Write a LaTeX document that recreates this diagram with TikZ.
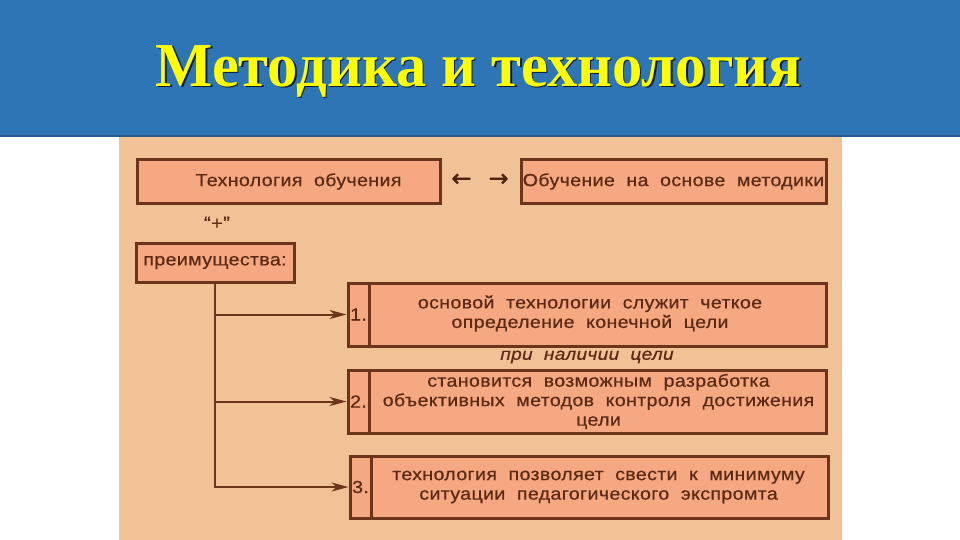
\documentclass[tikz,border=0pt]{standalone}
\usepackage{fontspec}
\setmainfont{Liberation Sans}
\newfontfamily\titlefont[FakeStretch=0.97]{Liberation Serif}
\newfontfamily\boxfont[FakeStretch=1.12, FakeBold=0.6, LetterSpace=2]{Liberation Sans}
\newfontfamily\arrfont[FakeBold=1]{DejaVu Sans}
\usetikzlibrary{arrows.meta,calc}
\definecolor{band}{RGB}{46,117,182}
\definecolor{bandedge}{RGB}{40,90,140}
\definecolor{panel}{RGB}{240,194,150}
\definecolor{boxfill}{RGB}{246,168,130}
\definecolor{brownline}{RGB}{108,52,26}
\definecolor{browntext}{RGB}{92,42,20}
\definecolor{titleyellow}{RGB}{255,255,0}
\tikzset{
  box/.style={draw=brownline, line width=3pt, fill=boxfill, inner sep=0pt, text=browntext},
  sep/.style={draw=brownline, line width=2.4pt},
  conn/.style={draw=brownline, line width=2pt, -{Stealth[length=17pt,width=9pt,inset=5pt]}},
  trunk/.style={draw=brownline, line width=2.6pt},
  btext/.style={text=browntext, font=\boxfont\fontsize{17.5}{19.5}\selectfont, align=center, inner sep=0pt},
  numtext/.style={text=browntext, font=\boxfont\fontsize{17.5}{19.5}\selectfont, inner sep=0pt}
}
\begin{document}
\begin{tikzpicture}[x=1pt,y=-1pt]
\useasboundingbox (0,0) rectangle (960,540);
\fill[white] (0,0) rectangle (960,540);
\fill[panel] (119,137) rectangle (842,540);
\fill[band] (0,0) rectangle (960,137);
\fill[bandedge] (0,135) rectangle (960,137.5);
% title
\node[text=black!75!band, font=\titlefont\bfseries\fontsize{62.5}{70}\selectfont, inner sep=0pt] (titleshadow) at (480,72.5) {Методика и технология};
\node[text=titleyellow, font=\titlefont\bfseries\fontsize{62.5}{70}\selectfont, inner sep=0pt] (title) at (478.5,71) {Методика и технология};
% top boxes
\node[box, minimum width=303pt, minimum height=43pt, font=\boxfont\fontsize{17.5}{20}\selectfont] (tech) at (288.5,181.5) {\hspace*{20pt}Технология\ \ обучения};
\node[box, minimum width=305pt, minimum height=43pt, font=\boxfont\fontsize{17.5}{20}\selectfont] (meth) at (673.5,181.5) {Обучение\ \ на\ \ основе\ \ методики};
\node[text=browntext!85!black, font=\arrfont\fontsize{24}{26}\selectfont, inner sep=0pt] (arrows) at (480,180) {←\hspace{17pt}→};
\node[text=browntext, font=\boxfont\fontsize{18}{20}\selectfont, inner sep=0pt] (plus) at (217,223) {“+”};
\node[box, minimum width=158pt, minimum height=39pt, font=\boxfont\fontsize{17.5}{20}\selectfont] (pre) at (215,262.5) {преимущества:};
% numbered boxes
\node[box, minimum width=478pt, minimum height=63pt] (b1) at (587,314.5) {};
\node[box, minimum width=478pt, minimum height=63pt] (b2) at (587,401.5) {};
\node[box, minimum width=478pt, minimum height=62pt] (b3) at (589,487) {};
\foreach \b/\n in {b1/1., b2/2., b3/3.}{
  \draw[sep] ($(\b.north west)+(23,0)$) -- ($(\b.south west)+(23,0)$);
  \node[numtext] (\b num) at ($(\b.west)+(12,0)$) {\n};
}
\node[btext] (t1) at (590,313.5) {основой\ \ технологии\ \ служит\ \ четкое\\определение\ \ конечной\ \ цели};
\node[btext] (t2) at (598.5,401.5) {становится\ \ возможным\ \ разработка\\объективных\ \ методов\ \ контроля\ \ достижения\\цели};
\node[btext] (t3) at (598.5,487) {технология\ \ позволяет\ \ свести\ \ к\ \ минимуму\\ситуации\ \ педагогического\ \ экспромта};
\node[text=browntext, font=\boxfont\itshape\fontsize{17}{19}\selectfont, inner sep=0pt] (goal) at (587,357) {при\ \ наличии\ \ цели};
% connectors
\draw[trunk] (pre.south) -- (pre.south |- b3.west) -- ($(b3.west)+(-15,0)$);
\draw[conn] (pre.south |- b1.west) -- (b1.west);
\draw[conn] (pre.south |- b2.west) -- (b2.west);
\draw[conn] (pre.south |- b3.west) -- (b3.west);
\end{tikzpicture}
\end{document}
